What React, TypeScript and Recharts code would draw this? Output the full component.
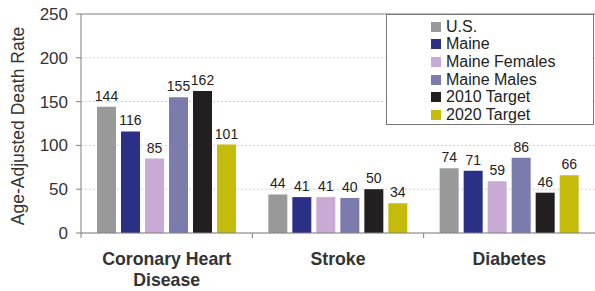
import { BarChart, Bar, XAxis, YAxis, CartesianGrid, LabelList, ReferenceLine } from 'recharts'

const categories = ['Coronary Heart Disease', 'Stroke', 'Diabetes']
const usValues = [144, 44, 74]
const maineValues = [116, 41, 71]
const maineFemalesValues = [85, 41, 59]
const maineMalesValues = [155, 40, 86]
const target2010Values = [162, 50, 46]
const target2020Values = [101, 34, 66]
const yTicks = [0, 50, 100, 150, 200, 250]

const SERIES = [
  { key: 'us', name: 'U.S.', color: '#999999', values: usValues },
  { key: 'maine', name: 'Maine', color: '#2b3087', values: maineValues },
  { key: 'females', name: 'Maine Females', color: '#c9aad4', values: maineFemalesValues },
  { key: 'males', name: 'Maine Males', color: '#7b7bae', values: maineMalesValues },
  { key: 't2010', name: '2010 Target', color: '#231f20', values: target2010Values },
  { key: 't2020', name: '2020 Target', color: '#c4bb0b', values: target2020Values },
]

const data = categories.map((cat, i) => {
  const row: Record<string, string | number> = { category: cat }
  SERIES.forEach((s) => {
    row[s.key] = s.values[i]
  })
  return row
})

const FONT = '"Liberation Sans", Arial, sans-serif'
const WIDTH = 595
const HEIGHT = 291
const LEFT = 81
const RIGHT_MARGIN = 0
const BAND = (WIDTH - LEFT - RIGHT_MARGIN) / categories.length
const AXIS_Y = 233

// category tick: label split on two lines + boundary tick mark on the left edge of band
function CategoryTick(props: any) {
  const { x, payload } = props
  const label: string = payload.value
  const lines = label === 'Coronary Heart Disease' ? ['Coronary Heart', 'Disease'] : [label]
  const bx = x - BAND / 2
  return (
    <g>
      <line x1={bx} y1={AXIS_Y} x2={bx} y2={AXIS_Y + 5} stroke="#808080" strokeWidth={1} />
      {lines.map((ln, i) => (
        <text
          key={ln}
          x={x}
          y={AXIS_Y + 32 + i * 21}
          textAnchor="middle"
          fontFamily={FONT}
          fontSize={17.7}
          fontWeight="bold"
          fill="#333333"
        >
          {ln}
        </text>
      ))}
    </g>
  )
}

function LegendBox() {
  return (
    <div
      style={{
        position: 'absolute',
        top: 14,
        left: 386,
        border: '1px solid #777',
        width: 208,
        height: 111,
        boxSizing: 'border-box',
        paddingTop: 3,
        paddingLeft: 44,
        background: '#fff',
        fontFamily: FONT,
      }}
    >
      {SERIES.map((s) => (
        <div
          key={s.key}
          style={{ display: 'flex', alignItems: 'center', height: 17.6, fontSize: 16, color: '#222' }}
        >
          <span style={{ width: 10, height: 10, background: s.color, marginRight: 5, display: 'inline-block' }} />
          {s.name}
        </div>
      ))}
    </div>
  )
}

export default function App() {
  return (
    <div style={{ position: 'absolute', top: 0, left: 0, width: WIDTH, height: HEIGHT, background: '#fff' }}>
      <BarChart
        width={WIDTH}
        height={HEIGHT}
        data={data}
        margin={{ top: 14, right: RIGHT_MARGIN, left: 0, bottom: 0 }}
        barSize={19}
        barGap={5}
      >
        <CartesianGrid vertical={false} stroke="#cfcfcf" strokeDasharray="2 2" />
        <ReferenceLine y={250} stroke="#8c8c8c" />
        <XAxis
          dataKey="category"
          height={HEIGHT - AXIS_Y}
          stroke="#808080"
          tickLine={false}
          interval={0}
          tick={<CategoryTick />}
        />
        <YAxis
          width={LEFT}
          domain={[0, 250]}
          ticks={yTicks}
          stroke="#808080"
          tickSize={5}
          tick={{ fontFamily: FONT, fontSize: 17, fill: '#333' }}
          tickMargin={8}
          label={{
            content: () => (
              <text
                x={24}
                y={126}
                transform="rotate(-90 24 126)"
                textAnchor="middle"
                fontFamily={FONT}
                fontSize={17.5}
                fill="#333"
              >
                Age-Adjusted Death Rate
              </text>
            ),
          }}
        />
        {SERIES.map((s) => (
          <Bar key={s.key} dataKey={s.key} name={s.name} fill={s.color} isAnimationActive={false}>
            <LabelList
              dataKey={s.key}
              position="top"
              offset={6}
              style={{ fontFamily: FONT, fontSize: 14, fill: '#222' }}
            />
          </Bar>
        ))}
      </BarChart>
      <LegendBox />
    </div>
  )
}
